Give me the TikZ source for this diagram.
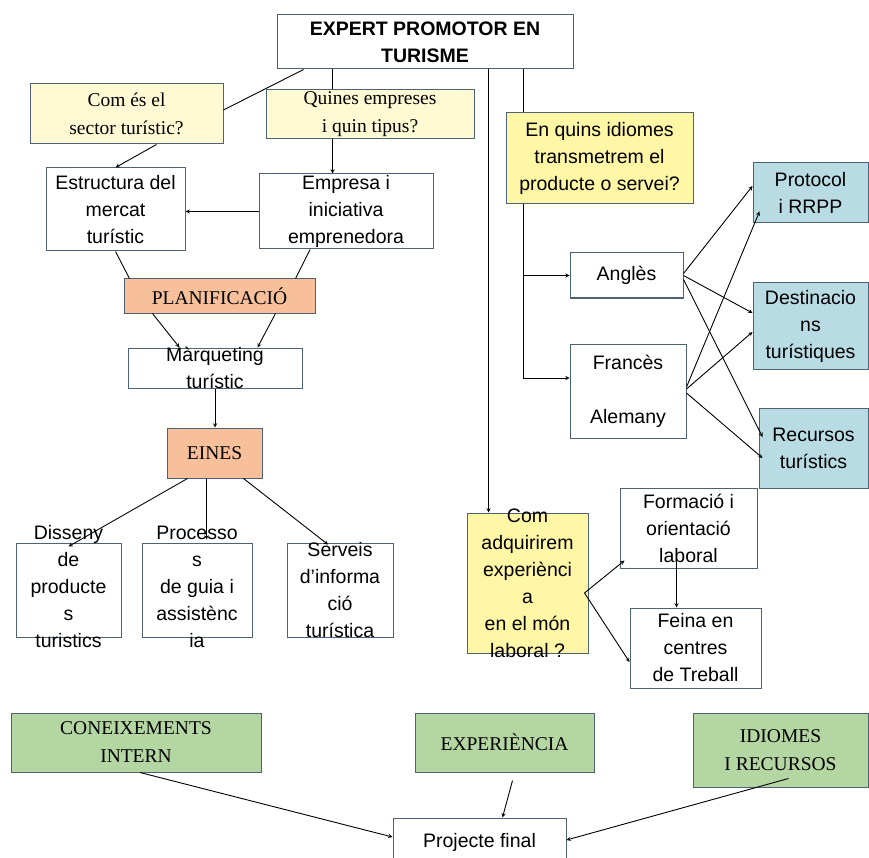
\documentclass[tikz,border=0pt]{standalone}
\usepackage{fontspec}
\setmainfont{Liberation Serif}
\setsansfont{Liberation Sans}
\newcommand{\sanstxt}{\sffamily\fontsize{19.5}{27}\selectfont}
\newcommand{\seriftxt}{\rmfamily\fontsize{19.5}{28}\selectfont}
\definecolor{bordc}{HTML}{4E6275}
\definecolor{yellowlt}{HTML}{FFFAD4}
\definecolor{yellowdk}{HTML}{FFF7A6}
\definecolor{orangebx}{HTML}{F7C09B}
\definecolor{bluebx}{HTML}{B9DCE4}
\definecolor{greenbx}{HTML}{B4D6A3}
\tikzset{>=stealth}
\tikzset{
  box/.style = {draw=bordc, line width=1pt, inner sep=0pt, align=center, font=\sanstxt},
  serifbox/.style = {box, font=\seriftxt},
  lbl/.style = {inner sep=0pt, align=center, font=\sanstxt},
}

\begin{document}
\begin{tikzpicture}[x=1pt, y=-1pt, line width=0.9pt]
    \useasboundingbox (0,0) rectangle (869,858);
    \clip (0,0) rectangle (869,858);
    % left column
    \node[box, minimum width=296pt, minimum height=54pt, font=\sanstxt\bfseries] (title) at (425,42) {EXPERT PROMOTOR EN\\TURISME};
    \node[serifbox, fill=yellowlt, minimum width=193pt, minimum height=60pt] (q1) at (126.5,114) {Com és el\\sector turístic?};
    \node[serifbox, fill=yellowlt, minimum width=208pt, minimum height=49pt] (q2) at (370,114.5) {Quines empreses\\i quin tipus?};
    \node[box, minimum width=139pt, minimum height=83pt] (estr) at (115.5,209.5) {Estructura del\\mercat\\turístic};
    \node[box, minimum width=174pt, minimum height=75pt, label={[lbl]center:{Empresa i\\iniciativa\\emprenedora}}] (empr) at (346,211.5) {};
    \node[serifbox, fill=orangebx, minimum width=191pt, minimum height=34pt] (plan) at (219.5,296) {PLANIFICACIÓ};
    \node[box, minimum width=174pt, minimum height=40pt, label={[lbl]center:{Màrqueting\\turístic}}] (mark) at (215,368) {};
    \node[serifbox, fill=orangebx, minimum width=95pt, minimum height=50pt] (eines) at (214.5,453) {EINES};
    \node[box, minimum width=105pt, minimum height=94pt, label={[lbl, yshift=3pt]center:{Disseny\\de\\producte\\s\\turistics}}] (dis) at (68.5,590) {};
    \node[box, minimum width=110pt, minimum height=94pt, label={[lbl, yshift=3pt]center:{Processo\\s\\de guia i\\assistènc\\ia}}] (proc) at (197,590) {};
    \node[box, minimum width=106pt, minimum height=94pt, label={[lbl]center:{Serveis\\d'informa\\ció\\turística}}] (serv) at (340,590) {};
    % right column
    \node[box, fill=yellowdk, minimum width=187pt, minimum height=91pt] (q3) at (599.5,158.5) {En quins idiomes\\transmetrem el\\producte o servei?};
    \node[box, minimum width=113pt, minimum height=45pt] (angl) at (626.5,275.5) {Anglès};
    \node[box, minimum width=116pt, minimum height=94pt] (fran) at (628,391) {Francès\\[27pt]Alemany};
    \node[box, fill=bluebx, minimum width=115pt, minimum height=60pt] (prot) at (810.5,193) {Protocol\\i RRPP};
    \node[box, fill=bluebx, minimum width=115pt, minimum height=86pt] (dest) at (810.5,326) {Destinacio\\ns\\turístiques};
    \node[box, fill=bluebx, minimum width=109pt, minimum height=80pt] (recu) at (813.5,448) {Recursos\\turístics};
    \node[box, fill=yellowdk, minimum width=121pt, minimum height=140pt, label={[lbl]center:{Com\\adquirirem\\experiènci\\a\\en el món\\laboral ?}}] (com) at (527.5,583) {};
    \node[box, minimum width=137pt, minimum height=80pt] (form) at (688.5,528) {Formació i\\orientació\\laboral};
    \node[box, minimum width=131pt, minimum height=80pt] (fein) at (695.5,648) {Feina en\\centres\\de Treball};
    % bottom row
    \node[serifbox, fill=greenbx, minimum width=250pt, minimum height=59pt] (cone) at (136,742.5) {CONEIXEMENTS\\INTERN};
    \node[serifbox, fill=greenbx, minimum width=179pt, minimum height=59pt] (expe) at (504.5,742.5) {EXPERIÈNCIA};
    \node[serifbox, fill=greenbx, minimum width=175pt, minimum height=74pt] (idio) at (780.5,750) {IDIOMES\\I RECURSOS};
    \node[box, minimum width=173pt, minimum height=48pt] (proj) at (479.5,842) {Projecte final};

    % connectors
    \coordinate (t1) at ([xshift=56pt]title.south west);
    \coordinate (t2) at ([xshift=-50pt]title.south east);
    \coordinate (t3) at ([xshift=-85pt]title.south east);
    \draw ([xshift=27pt]title.south west) -- ([yshift=4pt]q1.east);
    \draw (t1) -- (t1 |- q2.north);
    \draw[->] (t1 |- q2.south) -- (t1 |- empr.north);
    \draw[->] ([xshift=30pt]q1.south) -- (estr.north);
    \draw[->] (empr.west) -- (empr.west -| estr.east);
    \draw (estr.south) -- ([xshift=6pt]plan.north west);
    \draw ([xshift=-36pt]empr.south) -- ([xshift=-20pt]plan.north east);
    \draw[->] ([xshift=29pt]plan.south west) -- ([xshift=52pt]mark.north west);
    \draw[->] ([xshift=-40pt]plan.south east) -- ([xshift=-45pt]mark.north east);
    \draw[->] (mark.south) -- (mark.south |- eines.north);
    \coordinate (e2) at ([xshift=-8pt]eines.south);
    \draw[->] ([xshift=21pt]eines.south west) -- ([yshift=-4pt]dis.north);
    \draw[->] (e2) -- ([yshift=3pt]e2 |- proc.north);
    \draw[->] ([xshift=-19pt]eines.south east) -- ([xshift=-12pt,yshift=-2pt]serv.north);

    \draw (t2) -- (t2 |- q3.north);
    \draw[->] (t2 |- q3.south) |- ([yshift=13pt]fran.west);
    \draw[->] (t2 |- angl.west) -- (angl.west);
    \draw[->] ([yshift=2pt]angl.east) -- ([yshift=7pt]prot.west);
    \draw[->] (angl.east) -- ([yshift=13pt]dest.west);
    \draw[->] ([yshift=-4pt]angl.east) -- ([xshift=4pt,yshift=11pt]recu.west);
    \draw[->] ([yshift=4pt]fran.east) -- ([xshift=7pt,yshift=12pt]prot.south west);
    \draw[->] ([yshift=2pt]fran.east) -- ([yshift=-6pt]dest.west);
    \draw[->] ([yshift=-2pt]fran.east) -- ([xshift=4pt,yshift=-10pt]recu.west);

    \draw[->] (t3) -- (t3 |- com.north);
    \draw[->] ([xshift=-4pt,yshift=-10pt]com.east) -- ([xshift=5pt,yshift=8pt]form.south west);
    \draw[->] ([xshift=-4pt,yshift=-10pt]com.east) -- ([yshift=-14pt]fein.west);
    \coordinate (f1) at ([xshift=-12pt,yshift=12pt]form.south);
    \draw[->] (f1) -- (f1 |- fein.north);

    \draw[->] ([xshift=4pt]cone.south) -- ([yshift=5pt]proj.west);
    \draw[->] ([xshift=8pt,yshift=-8pt]expe.south) -- ([xshift=23pt]proj.north);
    \draw[->] ([xshift=8pt,yshift=9pt]idio.south) -- ([yshift=2pt]proj.east);
\end{tikzpicture}
\end{document}
